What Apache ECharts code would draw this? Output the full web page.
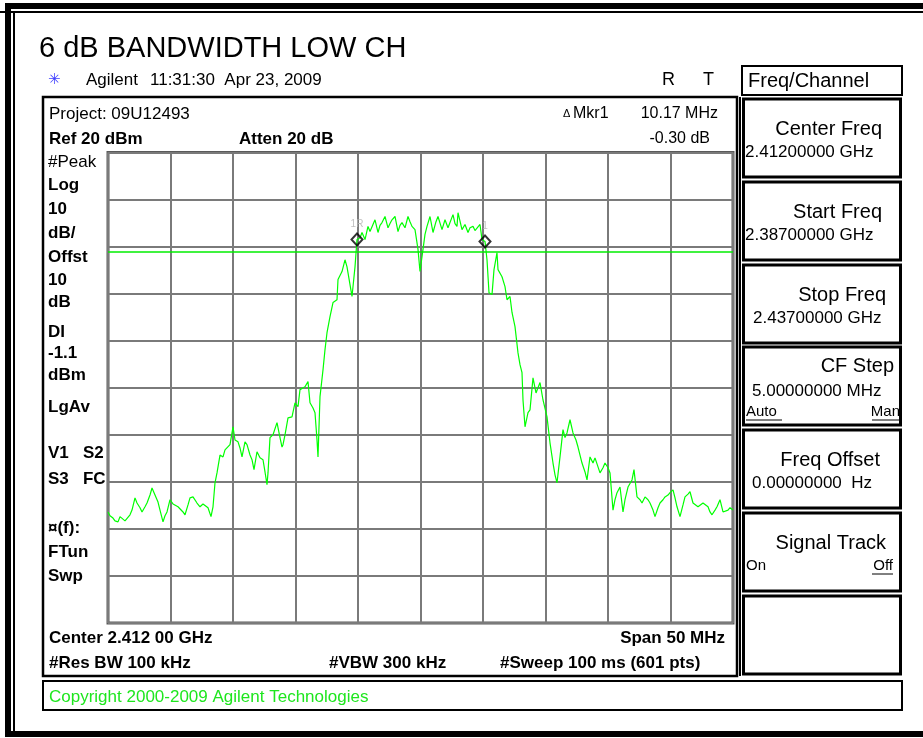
<!DOCTYPE html>
<html>
<head>
<meta charset="utf-8">
<script src="https://cdn.jsdelivr.net/npm/echarts@6/dist/echarts.min.js"></script>
<style>
html,body{margin:0;padding:0;background:#fff;}
#c{width:923px;height:738px;}
</style>
</head>
<body>
<div id="c"></div>
<script>
// Frequency offset from center (MHz), center 2.412 GHz, span 50 MHz
const freqOffsetMHz = [
-25.00,-24.84,-24.60,-24.44,-24.20,-24.04,-23.88,-23.64,-23.48,-23.24,-23.08,-22.84,-22.68,-22.60,-22.44,-22.28,-22.04,-21.88,-21.64,-21.48,
-21.24,-21.00,-20.84,-20.60,-20.44,-20.28,-20.04,-19.80,-19.64,-19.40,-19.24,-19.00,-18.84,-18.60,-18.44,-18.20,-18.04,-17.88,-17.64,-17.40,
-17.24,-17.00,-16.76,-16.60,-16.44,-16.28,-16.04,-15.80,-15.64,-15.48,-15.24,-15.00,-14.84,-14.60,-14.44,-14.28,-14.04,-13.88,-13.64,-13.48,
-13.32,-13.08,-12.84,-12.60,-12.44,-12.28,-12.20,-12.04,-11.80,-11.48,-11.24,-11.08,-11.00,-10.84,-10.60,-10.28,-10.04,-9.80,-9.64,-9.48,
-9.24,-9.00,-8.84,-8.60,-8.44,-8.28,-8.20,-8.04,-7.80,-7.64,-7.48,-7.24,-7.00,-6.68,-6.60,-6.28,-6.04,-5.88,-5.64,-5.48,
-5.24,-5.08,-5.00,-4.84,-4.68,-4.44,-4.20,-4.04,-3.88,-3.64,-3.40,-3.24,-3.08,-2.84,-2.60,-2.44,-2.28,-2.04,-1.80,-1.64,
-1.48,-1.24,-1.00,-0.84,-0.68,-0.44,-0.20,-0.04,0.20,0.36,0.52,0.76,1.00,1.24,1.40,1.72,1.96,2.20,2.36,2.60,
2.76,2.92,3.00,3.32,3.56,3.80,3.96,4.20,4.36,4.52,4.76,4.92,5.16,5.32,5.48,5.72,5.88,6.12,6.20,6.52,
6.76,6.92,7.16,7.32,7.56,7.80,7.96,8.12,8.20,8.36,8.60,8.76,8.92,9.00,9.24,9.40,9.56,9.80,10.12,10.36,
10.60,10.76,10.92,11.16,11.40,11.56,11.72,11.96,12.20,12.44,12.60,12.76,12.92,13.16,13.32,13.56,13.80,13.96,14.12,14.36,
14.60,14.76,15.00,15.16,15.40,15.56,15.72,15.96,16.20,16.36,16.60,16.92,17.08,17.32,17.56,17.72,17.96,18.20,18.36,18.60,
18.76,19.00,19.16,19.40,19.56,19.80,19.96,20.20,20.36,20.52,20.76,21.00,21.16,21.40,21.56,21.80,21.96,22.20,22.36,22.60,
22.76,23.00,23.16,23.32,23.56,23.72,23.96,24.20,24.36,24.60,24.76,25.00
];
// Trace level (dBm)
const levelDBm = [
-56.4,-57.2,-57.7,-58.3,-58.5,-57.4,-57.0,-58.3,-58.7,-57.0,-56.0,-53.4,-54.5,-54.3,-55.5,-56.4,-55.3,-54.5,-52.8,-51.3,
-52.8,-54.3,-56.0,-58.5,-57.2,-56.4,-53.8,-54.7,-54.9,-55.3,-55.5,-56.4,-57.0,-54.9,-53.4,-53.2,-53.2,-54.5,-55.3,-54.7,
-54.9,-55.5,-57.4,-55.3,-50.2,-48.1,-44.3,-44.7,-43.2,-43.2,-42.1,-38.3,-41.1,-41.5,-42.8,-44.7,-41.5,-42.1,-44.3,-45.3,
-47.4,-43.6,-44.9,-45.3,-47.9,-50.6,-48.1,-40.6,-40.0,-37.4,-40.6,-42.6,-42.1,-40.0,-36.4,-36.2,-33.2,-34.0,-30.4,-30.4,
-29.8,-28.7,-33.2,-34.3,-35.3,-41.1,-44.7,-31.9,-26.2,-21.9,-18.3,-14.9,-11.9,-11.3,-7.0,-5.3,-2.8,-4.3,-8.1,-10.6,
-4.3,1.5,1.7,1.9,3.0,1.5,4.3,3.2,3.2,5.7,3.0,4.5,5.1,6.4,4.0,4.9,5.7,6.4,3.2,4.5,
5.1,4.0,6.4,5.3,4.3,3.6,-0.6,-5.3,-0.6,2.6,4.3,6.4,3.0,5.3,6.4,3.6,5.7,4.0,3.6,6.8,
4.9,4.3,7.2,3.6,4.7,3.0,4.0,4.3,3.4,3.0,4.7,1.5,1.1,-2.8,-9.8,-10.2,-4.9,-1.3,-4.9,-6.4,
-8.5,-11.3,-10.6,-14.0,-17.0,-22.6,-25.1,-26.8,-32.6,-38.3,-35.3,-34.7,-34.7,-27.9,-31.1,-30.0,-28.9,-32.6,-36.2,-41.7,
-46.0,-48.5,-50.2,-44.7,-38.9,-40.6,-39.6,-36.8,-39.6,-41.1,-42.6,-44.3,-46.0,-47.9,-49.6,-44.7,-46.0,-44.9,-44.7,-48.1,
-47.0,-46.0,-47.0,-48.1,-56.0,-53.8,-52.3,-51.1,-56.4,-53.8,-51.1,-49.6,-47.4,-53.2,-53.8,-54.5,-53.2,-53.8,-54.5,-56.0,
-57.4,-55.5,-54.5,-53.8,-53.2,-52.8,-52.3,-51.7,-53.4,-55.3,-57.4,-54.9,-53.2,-52.6,-52.1,-54.5,-54.9,-55.3,-54.9,-54.5,
-54.9,-55.3,-56.4,-57.0,-56.0,-55.3,-53.8,-56.4,-56.0,-56.0,-55.5,-56.0
];
const markerNames = ['1R','1'];
const markerFreqs = [-5.08, 5.16];
const markerLevels = [1.5, 1.1];
const displayLineDBm = -1.1;
const leftLabels = ['#Peak','Log','10','dB/','Offst','10','dB','DI','-1.1','dBm','LgAv','V1   S2','S3   FC','\u00a4(f):','FTun','Swp'];
const softKeys = [
  {title:'Center Freq', value:'2.41200000 GHz'},
  {title:'Start Freq', value:'2.38700000 GHz'},
  {title:'Stop Freq', value:'2.43700000 GHz'},
  {title:'CF Step', value:'5.00000000 MHz'},
  {title:'Freq Offset', value:'0.00000000  Hz'},
  {title:'Signal Track', value:''},
  {title:'', value:''}
];

const FONT = '"Liberation Sans", Arial, sans-serif';
function T(text, x, y, size, opts) {
  opts = opts || {};
  const align = opts.align || 'left';
  return {
    type: 'text', x: x, y: y, silent: true, z: 10,
    style: {
      text: text,
      font: (opts.bold ? 'bold ' : '') + size + 'px ' + (opts.family || FONT),
      fill: opts.color || '#000',
      align: align, verticalAlign: 'middle',
      textAlign: align, textVerticalAlign: 'middle'
    }
  };
}
function R(x, y, w, h, lw, color) {
  return { type: 'rect', silent: true, z: 5, shape: {x: x, y: y, width: w, height: h},
    style: {fill: 'none', stroke: color || '#000', lineWidth: lw} };
}
function L(x1, y1, x2, y2, lw, color) {
  return { type: 'line', silent: true, z: 5, shape: {x1: x1, y1: y1, x2: x2, y2: y2},
    style: {stroke: color || '#000', lineWidth: lw} };
}

const g = [];
// outer frame
g.push(R(8, 6, 940, 728, 6));
g.push(L(0, 12, 923, 12, 2));
g.push(L(14, 12, 14, 731, 2));
// title & header
g.push(T('6 dB BANDWIDTH LOW CH', 39, 49, 29));
g.push(T('\u2733', 48, 80, 15, {color: '#3c3cff', family: '"DejaVu Sans", sans-serif'}));
g.push(T('Agilent', 86, 80, 17));
g.push(T('11:31:30  Apr 23, 2009', 150, 80, 17));
g.push(T('R', 662, 80, 18));
g.push(T('T', 703, 80, 18));
// screen box
g.push(R(43, 97, 694, 579, 2.5));
g.push(T('Project: 09U12493', 49, 114, 17));
g.push(T('\u0394', 563, 114, 11));
g.push(T('Mkr1', 573, 114, 16));
g.push(T('10.17 MHz', 718, 114, 16, {align: 'right'}));
g.push(T('-0.30 dB', 710, 139, 16, {align: 'right'}));
g.push(T('Ref 20 dBm', 49, 139, 17, {bold: true}));
g.push(T('Atten 20 dB', 239, 139, 17, {bold: true}));
const leftY = [162,185,209,233,257,280,302,332,353,375,407,453,479,528,552,576];
leftLabels.forEach(function (s, i) { g.push(T(s, 48, leftY[i], 17, {bold: i !== 0})); });
g.push(T('Center 2.412 00 GHz', 49, 638, 17, {bold: true}));
g.push(T('Span 50 MHz', 725, 638, 17, {bold: true, align: 'right'}));
g.push(T('#Res BW 100 kHz', 49, 663, 17, {bold: true}));
g.push(T('#VBW 300 kHz', 329, 663, 17, {bold: true}));
g.push(T('#Sweep 100 ms (601 pts)', 500, 663, 17, {bold: true}));
// copyright
g.push(R(43, 681, 859, 29, 2));
g.push(T('Copyright 2000-2009 Agilent Technologies', 49, 697, 17, {color: '#1ee61e'}));
// right panel
g.push(L(740, 97, 740, 676, 2));
g.push(R(742, 66, 160, 29, 2));
g.push(T('Freq/Channel', 748, 81, 20));
const tops = [99,182,265,347,430,513,596];
const titleRight = [882,882,886,894,880,886,886];
const titleOff = [30,30,30,19,30,30,30];
const valueX = [745,745,753,752,752,752,752];
const valueOff = [53,53,53,44,53,53,53];
softKeys.forEach(function (k, i) {
  g.push(R(743.5, tops[i], 157, 78, 3));
  if (k.title) g.push(T(k.title, titleRight[i], tops[i] + titleOff[i], 20, {align: 'right'}));
  if (k.value) g.push(T(k.value, valueX[i], tops[i] + valueOff[i], 17));
});
g.push(T('Auto', 746, 412, 15));
g.push(L(746, 420, 782, 420, 1));
g.push(T('Man', 900, 412, 15, {align: 'right'}));
g.push(L(872, 420, 900, 420, 1));
g.push(T('On', 746, 566, 15));
g.push(T('Off', 893, 566, 15, {align: 'right'}));
g.push(L(872, 574, 893, 574, 1));

const traceData = freqOffsetMHz.map(function (f, i) { return [f, levelDBm[i]]; });
const markerData = markerFreqs.map(function (f, i) { return {value: [f, markerLevels[i]], name: markerNames[i]}; });

const chart = echarts.init(document.getElementById('c'));
chart.setOption({
  animation: false,
  backgroundColor: '#fff',
  grid: {left: 108, top: 152.5, right: 190, bottom: 115, show: true,
    borderColor: '#5a5a5a', borderWidth: 3, backgroundColor: '#fff'},
  xAxis: {type: 'value', min: -25, max: 25, interval: 5,
    axisLine: {show: false}, axisTick: {show: false}, axisLabel: {show: false},
    splitLine: {show: true, lineStyle: {color: '#7a7a7a', width: 2}}},
  yAxis: {type: 'value', min: -80, max: 20, interval: 10,
    axisLine: {show: false}, axisTick: {show: false}, axisLabel: {show: false},
    splitLine: {show: true, lineStyle: {color: '#7a7a7a', width: 2}}},
  series: [
    {type: 'line', data: traceData, symbol: 'none', showSymbol: false,
      lineStyle: {color: '#00ff00', width: 1.2}, z: 3,
      markLine: {silent: true, symbol: ['none','none'], label: {show: false},
        lineStyle: {color: '#00ee00', width: 1.5, type: 'solid'},
        data: [{yAxis: displayLineDBm}]}},
    {type: 'scatter', data: markerData, symbol: 'diamond', symbolSize: [11, 12], z: 4,
      itemStyle: {color: 'rgba(255,255,255,0)', borderColor: '#000', borderWidth: 2},
      label: {show: true, position: 'top', distance: 3, formatter: '{b}', color: '#b0b0b0', fontSize: 10, fontFamily: FONT}}
  ],
  graphic: g
});
</script>
</body>
</html>
